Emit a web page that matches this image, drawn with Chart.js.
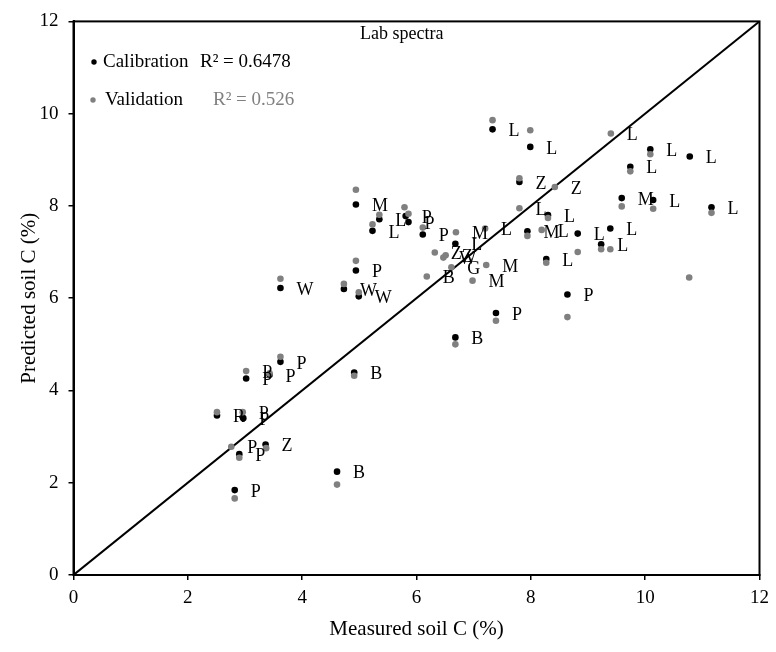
<!DOCTYPE html>
<html>
<head>
<meta charset="utf-8">
<title>Lab spectra</title>
<script src="https://cdn.jsdelivr.net/npm/chart.js@4.4.1/dist/chart.umd.min.js"></script>
<style>
    html, body { margin: 0; padding: 0; background: #fff; }
    #wrap { width: 776px; height: 652px; }
</style>
</head>
<body>
<div id="wrap"><canvas id="soil-chart" width="776" height="652"></canvas></div>
<script>
// Calibration set: measured vs predicted soil C (%), with site letter
const calX = [7.33, 7.99, 10.09, 10.78, 9.74, 7.80, 9.59, 10.14, 11.16, 8.30,
              7.94, 8.82, 9.39, 9.23, 8.27, 8.64, 4.94, 5.35, 5.23, 5.81,
              5.86, 6.11, 6.68, 4.94, 3.62, 4.73, 4.99, 7.39, 6.68, 3.62,
              3.02, 3.43, 2.51, 2.97, 3.36, 2.90, 2.82, 4.61, 4.91];
const calY = [9.66, 9.28, 9.23, 9.07, 8.85, 8.52, 8.17, 8.13, 7.97, 7.80,
              7.45, 7.40, 7.51, 7.17, 6.85, 6.08, 8.03, 7.71, 7.46, 7.78,
              7.65, 7.38, 7.18, 6.60, 6.22, 6.20, 6.04, 5.68, 5.15, 4.62,
              4.26, 4.34, 3.46, 3.40, 2.83, 2.62, 1.84, 2.24, 4.39];
const calTags = ['L', 'L', 'L', 'L', 'L', 'Z', 'M', 'L', 'L', 'L',
                 'M', 'L', 'L', 'L', 'L', 'P', 'M', 'L', 'L', 'P',
                 'P', 'P', 'L', 'P', 'W', 'W', 'W', 'P', 'B', 'P',
                 'P', 'P', 'R', 'P', 'Z', 'P', 'P', 'B', 'B'];

// Validation set
const valX = [7.33, 7.99, 9.40, 10.09, 9.74, 7.80, 8.42, 7.80, 8.30, 9.59,
              10.14, 11.16, 5.79, 5.86, 5.23, 6.11, 6.69, 7.20, 7.94, 8.19,
              8.82, 9.23, 9.39, 8.27, 10.77, 6.32, 6.47, 6.51, 6.18, 6.61,
              6.98, 7.22, 5.35, 4.94, 4.94, 3.62, 4.73, 4.99, 7.39, 8.64,
              6.68, 3.62, 3.02, 3.43, 4.91, 2.51, 2.96, 2.76, 2.90, 3.37,
              2.82, 4.61];
const valY = [9.86, 9.64, 9.57, 9.12, 8.75, 8.60, 8.41, 7.95, 7.74, 7.99,
              7.94, 7.85, 7.97, 7.83, 7.60, 7.53, 7.43, 7.51, 7.35, 7.48,
              7.00, 7.06, 7.06, 6.77, 6.45, 6.99, 6.88, 6.93, 6.47, 6.67,
              6.38, 6.72, 7.81, 8.35, 6.81, 6.42, 6.31, 6.13, 5.51, 5.59,
              5.00, 4.73, 4.42, 4.37, 4.32, 3.53, 3.53, 2.78, 2.54, 2.75,
              1.66, 1.96];
const valTags = ['', '', 'L', '', '', '', 'Z', 'L', '', '',
                 '', '', '', '', '', '', 'M', 'L', '', 'L',
                 '', '', '', '', '', 'Z', 'W', 'Z', 'B', 'G',
                 'M', 'M', '', '', '', '', '', '', '', '',
                 '', '', 'P', '', '', '', 'P', 'P', '', '',
                 '', ''];

// 1:1 line and axis ticks
const oneToOne = [0, 12];
const axisTicks = [0, 2, 4, 6, 8, 10, 12];

const calR2 = 'R\u00B2 = 0.6478';
const valR2 = 'R\u00B2 = 0.526';

const SERIF = '"Liberation Serif", "Times New Roman", serif';

document.addEventListener('DOMContentLoaded', () => {
    const toPoints = (xs, ys) => xs.map((x, i) => ({ x: x, y: ys[i] }));

    // letters next to the points, the box round the plot, legend and title
    const annotate = {
        id: 'annotate',
        afterDatasetsDraw(chart) {
            const ctx = chart.ctx;
            const area = chart.chartArea;
            ctx.save();

            ctx.font = '18px ' + SERIF;
            ctx.fillStyle = '#000';
            ctx.textAlign = 'left';
            ctx.textBaseline = 'middle';
            chart.data.datasets.forEach((ds, i) => {
                if (!ds.tags) return;
                chart.getDatasetMeta(i).data.forEach((el, j) => {
                    const tag = ds.tags[j];
                    if (tag) ctx.fillText(tag, el.x + 16, el.y + 2);
                });
            });

            ctx.strokeStyle = '#000';
            ctx.lineWidth = 2;
            ctx.strokeRect(area.left, area.top, area.right - area.left, area.bottom - area.top);

            ctx.font = '18px ' + SERIF;
            ctx.fillText('Lab spectra', 360, 34);

            ctx.font = '19px ' + SERIF;
            ctx.beginPath();
            ctx.arc(94, 62, 2.7, 0, Math.PI * 2);
            ctx.fill();
            ctx.fillText('Calibration', 103, 62);
            ctx.fillText(calR2, 200, 62);

            ctx.fillStyle = '#808080';
            ctx.beginPath();
            ctx.arc(93, 100, 2.7, 0, Math.PI * 2);
            ctx.fill();
            ctx.fillStyle = '#000';
            ctx.fillText('Validation', 105, 100);
            ctx.fillStyle = '#808080';
            ctx.fillText(valR2, 213, 100);

            ctx.restore();
        }
    };

    const axis = (title, isY) => ({
        type: 'linear',
        min: 0,
        max: 12,
        afterBuildTicks: (scale) => {
            scale.ticks = axisTicks.map(v => ({ value: v }));
        },
        afterFit: (scale) => {
            if (isY) scale.width = 73.5;
            else scale.height = 77;
        },
        grid: {
            display: true,
            drawOnChartArea: false,
            drawTicks: true,
            tickLength: 5,
            color: '#000',
            lineWidth: 1.5
        },
        border: { display: true, color: '#000', width: 2 },
        ticks: {
            color: '#000',
            font: { family: SERIF, size: 19 },
            padding: isY ? 10 : 7,
            maxRotation: 0
        },
        title: {
            display: true,
            text: title,
            color: '#000',
            font: { family: SERIF, size: 21 },
            padding: isY ? { top: 17, bottom: 0 } : { top: 0, bottom: 10 }
        }
    });

    new Chart(document.getElementById('soil-chart').getContext('2d'), {
        type: 'scatter',
        data: {
            datasets: [
                {
                    label: 'Validation',
                    data: toPoints(valX, valY),
                    tags: valTags,
                    backgroundColor: '#808080',
                    borderWidth: 0,
                    pointRadius: 3.3,
                    order: 0
                },
                {
                    label: 'Calibration',
                    data: toPoints(calX, calY),
                    tags: calTags,
                    backgroundColor: '#000',
                    borderWidth: 0,
                    pointRadius: 3.3,
                    order: 1
                },
                {
                    label: '1:1',
                    type: 'line',
                    data: toPoints(oneToOne, oneToOne),
                    borderColor: '#000',
                    borderWidth: 2,
                    pointRadius: 0,
                    fill: false,
                    order: 2
                }
            ]
        },
        options: {
            responsive: false,
            animation: false,
            layout: { padding: { top: 16, right: 14.5, left: 0, bottom: 0 } },
            scales: {
                x: axis('Measured soil C (%)', false),
                y: axis('Predicted soil C (%)', true)
            },
            plugins: {
                legend: { display: false },
                tooltip: { enabled: false }
            }
        },
        plugins: [annotate]
    });
});
</script>
</body>
</html>
